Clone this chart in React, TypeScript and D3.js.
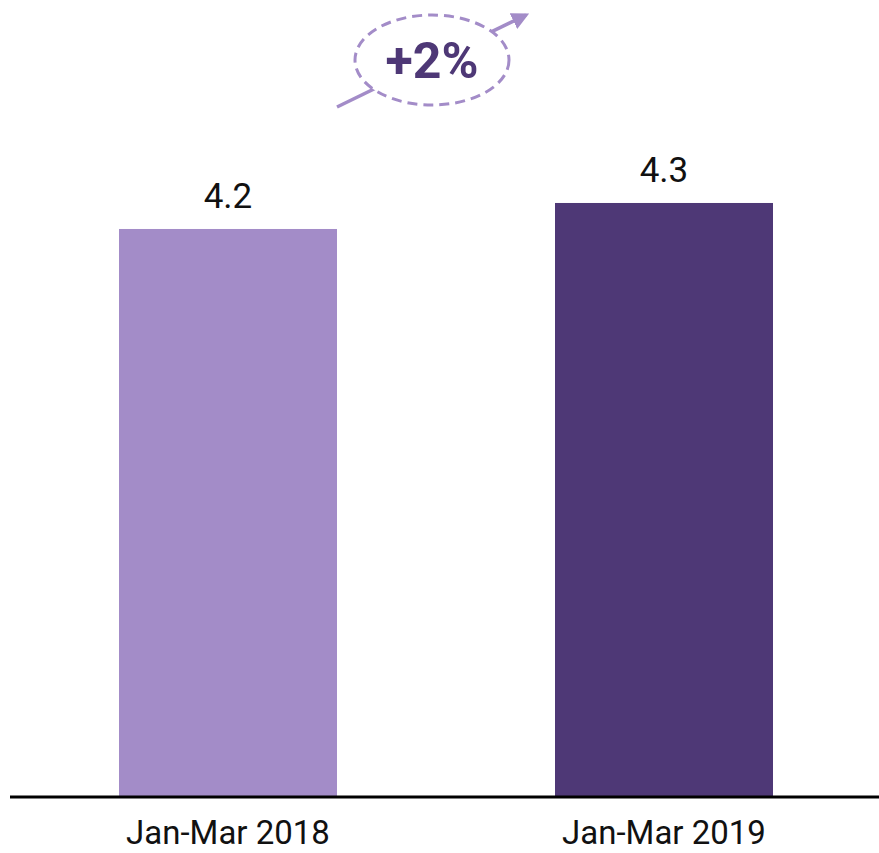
import React from 'react';
import * as d3 from 'd3';

// values, labels as printed on the chart
const categories = ['Jan-Mar 2018', 'Jan-Mar 2019'];
const values = [4.15, 4.34];
const valueLabels = ['4.2', '4.3'];
const changeLabel = '+2%';

const colors = ['#a38cc8', '#4e3876'];

const width = 879;
const height = 853;
const baseline = 797;

const App: React.FC = () => {
    const x = d3.scaleBand<string>()
        .domain(categories)
        .range([10, 882])
        .paddingInner(0.5)
        .paddingOuter(0.25);

    const y = d3.scaleLinear()
        .domain([0, 5.823])
        .range([baseline, 0]);

    // annotation sits roughly between the two bars, above them
    const mid = ((x(categories[0]) ?? 0) + (x(categories[1]) ?? 0) + x.bandwidth()) / 2;
    const cx = mid - 14;
    const cy = 60;

    return (
        <svg width={width} height={height} style={{ position: 'absolute', left: 0, top: 0 }}
            fontFamily="Roboto, 'Open Sans', sans-serif">
            <defs>
                <marker id="arrowHead" viewBox="0 0 10 10" refX="8" refY="5"
                    markerWidth="5" markerHeight="5" orient="auto">
                    <path d="M0,0 L10,5 L0,10 z" fill="#a38cc8" />
                </marker>
            </defs>

            {categories.map((c, i) => (
                <g key={c}>
                    <rect
                        x={x(c)}
                        y={y(values[i])}
                        width={x.bandwidth()}
                        height={baseline - y(values[i])}
                        fill={colors[i]}
                    />
                    <text
                        x={(x(c) ?? 0) + x.bandwidth() / 2}
                        y={y(values[i]) - 21}
                        textAnchor="middle"
                        fontSize={35}
                        fill="#111"
                    >
                        {valueLabels[i]}
                    </text>
                    <text
                        x={(x(c) ?? 0) + x.bandwidth() / 2}
                        y={844}
                        textAnchor="middle"
                        fontSize={33}
                        fill="#111"
                    >
                        {c}
                    </text>
                </g>
            ))}

            <line x1={10} x2={width} y1={baseline} y2={baseline} stroke="#000" strokeWidth={3} />

            <line x1={cx - 95} y1={cy + 47} x2={cx + 94} y2={cy - 45}
                stroke="#a38cc8" strokeWidth={3.5} markerEnd="url(#arrowHead)" />
            <ellipse cx={cx} cy={cy} rx={77} ry={45} fill="#fff"
                stroke="#a38cc8" strokeWidth={3} strokeDasharray="10 6" />
            <text x={cx} y={cy + 18} textAnchor="middle" fontSize={50} fontWeight="bold" fill="#4e3876">
                {changeLabel}
            </text>
        </svg>
    );
};

export default App;
